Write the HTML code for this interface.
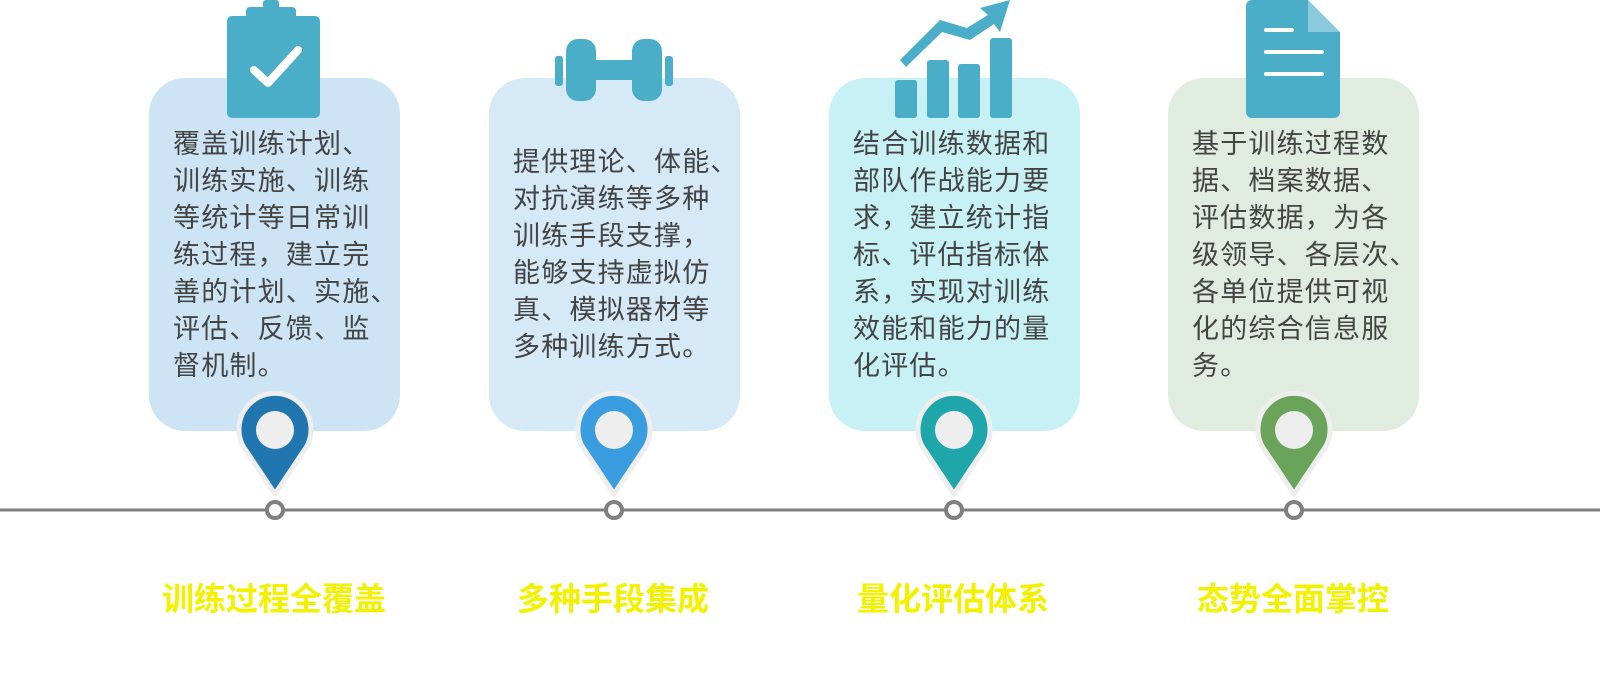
<!DOCTYPE html>
<html><head><meta charset="utf-8"><style>
body{margin:0;width:1600px;height:687px;background:#fff;position:relative;overflow:hidden;font-family:"Liberation Sans","Noto Sans CJK SC",sans-serif}
.card{position:absolute;top:78px;width:251px;height:353px;border-radius:36px}
.txt{position:absolute;font-size:27px;line-height:37px;color:#444;white-space:nowrap;letter-spacing:1.2px}
.title{position:absolute;top:574px;width:300px;text-align:center;font-size:32px;font-weight:bold;color:#f2f200;font-family:"Liberation Sans","Noto Sans CJK SC",sans-serif}
svg{position:absolute;left:0;top:0}
</style></head><body>
<div class="card" style="left:149px;background:#cde4f5"></div>
<div class="card" style="left:489px;background:#d6e9f7"></div>
<div class="card" style="left:829px;background:#c8f1f5"></div>
<div class="card" style="left:1168px;background:#e0ecdf"></div>

<div class="txt" style="left:173px;top:126px">覆盖训练计划、<br>训练实施、训练<br>等统计等日常训<br>练过程，建立完<br>善的计划、实施、<br>评估、反馈、监<br>督机制。</div>
<div class="txt" style="left:513px;top:144px">提供理论、体能、<br>对抗演练等多种<br>训练手段支撑，<br>能够支持虚拟仿<br>真、模拟器材等<br>多种训练方式。</div>
<div class="txt" style="left:853px;top:126px">结合训练数据和<br>部队作战能力要<br>求，建立统计指<br>标、评估指标体<br>系，实现对训练<br>效能和能力的量<br>化评估。</div>
<div class="txt" style="left:1192px;top:126px">基于训练过程数<br>据、档案数据、<br>评估数据，为各<br>级领导、各层次、<br>各单位提供可视<br>化的综合信息服<br>务。</div>

<svg width="1600" height="687">
<line x1="0" y1="510" x2="1600" y2="510" stroke="#7f7f7f" stroke-width="3"/>
<g fill="#4aaec8">
<rect x="227" y="16" width="93" height="102" rx="5"/>
<rect x="246" y="7" width="50" height="16" rx="4"/>
<rect x="263" y="0" width="16" height="12" rx="3"/>
</g>
<polyline points="254,70 268,83 298,50" fill="none" stroke="#fff" stroke-width="8" stroke-linecap="round" stroke-linejoin="round"/>
<g fill="#4aaec8">
<rect x="555" y="56" width="8" height="30" rx="3"/>
<rect x="566" y="39" width="30" height="62" rx="12"/>
<rect x="590" y="60" width="50" height="20"/>
<rect x="632" y="39" width="30" height="62" rx="12"/>
<rect x="665" y="56" width="8" height="30" rx="3"/>
<rect x="895" y="80" width="22" height="38" rx="3"/>
<rect x="927" y="60" width="22" height="58" rx="3"/>
<rect x="958" y="64" width="22" height="54" rx="3"/>
<rect x="990" y="38" width="22" height="80" rx="3"/>
<polygon points="1010,0 980,8 988,15 967,28 940,20 900,60 906,67 942,32 970,40 994,24 1000,32"/>
<path d="M1247 0 H1308 L1340 32 V112 a6 6 0 0 1 -6 6 H1252 a6 6 0 0 1 -6 -6 V6 a6 6 0 0 1 6 -6Z"/>
</g>
<path d="M1308 0 V32 H1340" fill="#fff" opacity="0.35"/>
<g stroke="#fff" stroke-width="4" stroke-linecap="round">
<line x1="1266" y1="30" x2="1292" y2="30"/>
<line x1="1266" y1="52" x2="1322" y2="52"/>
<line x1="1266" y1="74" x2="1322" y2="74"/>
</g>
<g transform="translate(275,0)"><path d="M0 494 L-28 452 A36 36 0 1 1 28 452 Z" fill="#2276b0" stroke="#eeeeee" stroke-width="5" stroke-linejoin="round"/><circle cx="0" cy="430" r="19" fill="#eeeeee"/><circle cx="0" cy="510" r="8" fill="#fff" stroke="#7f7f7f" stroke-width="4"/></g>
<g transform="translate(614,0)"><path d="M0 494 L-28 452 A36 36 0 1 1 28 452 Z" fill="#3a9de0" stroke="#eeeeee" stroke-width="5" stroke-linejoin="round"/><circle cx="0" cy="430" r="19" fill="#eeeeee"/><circle cx="0" cy="510" r="8" fill="#fff" stroke="#7f7f7f" stroke-width="4"/></g>
<g transform="translate(954,0)"><path d="M0 494 L-28 452 A36 36 0 1 1 28 452 Z" fill="#1fa6aa" stroke="#eeeeee" stroke-width="5" stroke-linejoin="round"/><circle cx="0" cy="430" r="19" fill="#eeeeee"/><circle cx="0" cy="510" r="8" fill="#fff" stroke="#7f7f7f" stroke-width="4"/></g>
<g transform="translate(1294,0)"><path d="M0 494 L-28 452 A36 36 0 1 1 28 452 Z" fill="#6aa35a" stroke="#eeeeee" stroke-width="5" stroke-linejoin="round"/><circle cx="0" cy="430" r="19" fill="#eeeeee"/><circle cx="0" cy="510" r="8" fill="#fff" stroke="#7f7f7f" stroke-width="4"/></g>
</svg>

<div class="title" style="left:124px">训练过程全覆盖</div>
<div class="title" style="left:463px">多种手段集成</div>
<div class="title" style="left:803px">量化评估体系</div>
<div class="title" style="left:1143px">态势全面掌控</div>
</body></html>
